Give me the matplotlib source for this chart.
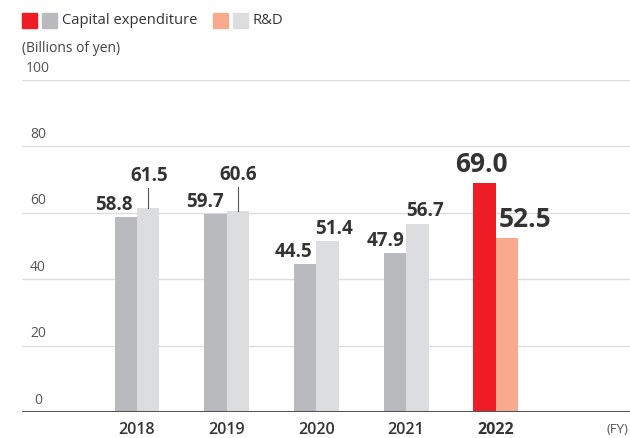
import matplotlib.pyplot as plt

# Данные
years = ['2018', '2019', '2020', '2021', '2022']
capex = [58.8, 59.7, 44.5, 47.9, 69.0]
rnd = [61.5, 60.6, 51.4, 56.7, 52.5]
y_ticks = [0, 20, 40, 60, 80, 100]

# Цвета
capex_colors = ['#b9babe'] * 4 + ['#ee1c25']
rnd_colors = ['#dcdddf'] * 4 + ['#f8aa8e']
text_color = '#333333'

plt.rcParams['font.family'] = ['Open Sans', 'DejaVu Sans']

fig = plt.figure(figsize=(6.3, 4.38), dpi=100)
ax = fig.add_axes([0.035, 0.0594, 0.965, 0.758])

x = list(range(len(years)))
w = 0.25
ax.bar([i - w / 2 for i in x], capex, width=w, color=capex_colors, zorder=2)
ax.bar([i + w / 2 for i in x], rnd, width=w, color=rnd_colors, zorder=2)

ax.set_xlim(-1.282, 5.496)
ax.set_ylim(0, 100)

# сетка и подписи оси Y
for t in y_ticks:
    if t > 0:
        ax.axhline(t, color='#dddddd', lw=1, zorder=1)
    ax.text(0.026, t + 1.3, str(t), transform=ax.get_yaxis_transform(),
            ha='center', va='bottom', fontsize=10, color='#555555')
ax.axhline(0, color='#555555', lw=1.5, zorder=3)

ax.set_xticks([])
ax.set_yticks([])
for s in ax.spines.values():
    s.set_visible(False)

# подписи годов
for i, yr in enumerate(years):
    ax.text(i, -5.4, yr, ha='center', va='center', fontsize=11.5,
            fontweight='bold' if i == 4 else 'semibold', color=text_color)
ax.text(0.997, -5.4, '(FY)', transform=ax.get_yaxis_transform(), ha='right', va='center',
        fontsize=9.5, color='#555555')

# подписи значений
capex_dx = [-0.13, -0.12, -0.13, -0.11, -0.04]
rnd_dx = [0.01, 0.0, 0.07, 0.08, 0.20]
rnd_lift = [6.5, 7.8, 0.8, 0.8, 1.5]
for i in x:
    big = i == 4
    fs = 19 if big else 13.5
    ax.text(i - w / 2 + capex_dx[i], capex[i] + (1.5 if big else 0.6), f'{capex[i]:.1f}',
            ha='center', va='bottom', fontsize=fs, fontweight='bold', color=text_color)
    ax.text(i + w / 2 + rnd_dx[i], rnd[i] + rnd_lift[i], f'{rnd[i]:.1f}',
            ha='center', va='bottom', fontsize=fs, fontweight='bold', color=text_color)
    if rnd_lift[i] > 3:
        ax.plot([i + w / 2, i + w / 2], [rnd[i], rnd[i] + rnd_lift[i] - 0.5],
                color='#555555', lw=0.8, zorder=3)

# легенда
def legend_box(xp, color):
    fig.patches.append(plt.Rectangle((xp / 630, 1 - 28 / 438), 15 / 630, 15 / 438,
                                     color=color, transform=fig.transFigure))

legend_box(22, '#ee1c25')
legend_box(42, '#b9babe')
legend_box(213, '#f8aa8e')
legend_box(233, '#dcdddf')
fig.text(62 / 630, 1 - 20.5 / 438, 'Capital expenditure', fontsize=10.6, color=text_color, va='center')
fig.text(252 / 630, 1 - 20.5 / 438, 'R&D', fontsize=10.6, color=text_color, va='center')
fig.text(22 / 630, 1 - 49 / 438, '(Billions of yen)', fontsize=10, color='#444444', va='center')

fig.savefig('out.png', dpi=100)
